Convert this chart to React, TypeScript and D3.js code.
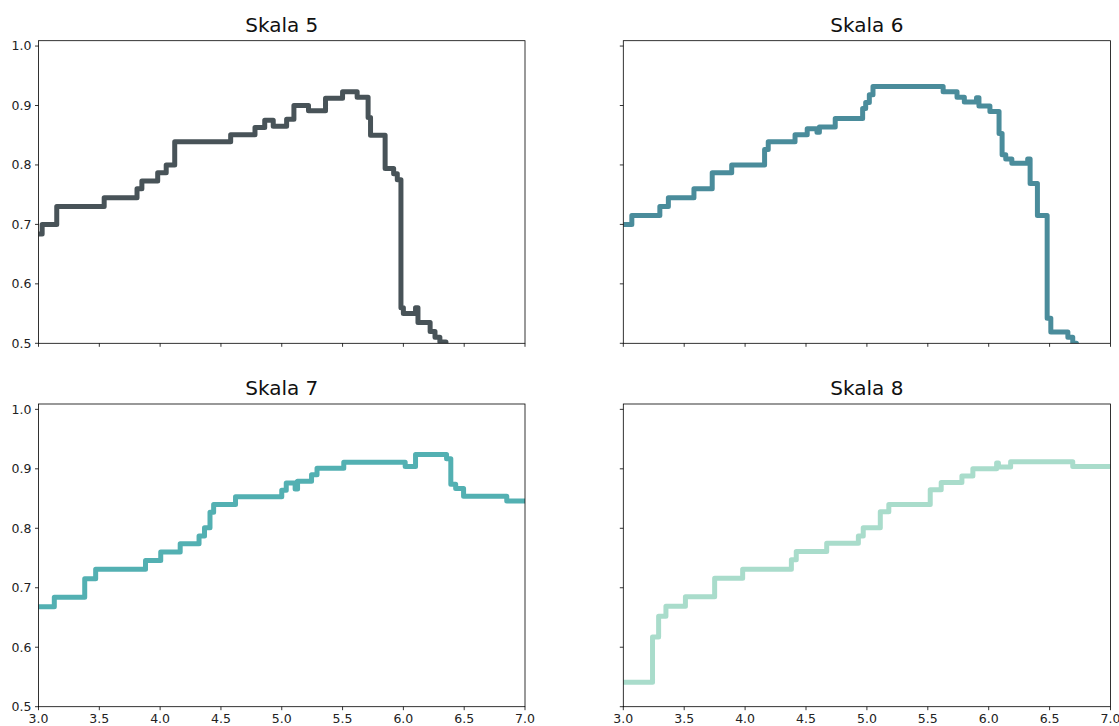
import React from "react";
import * as d3 from "d3";

// Step series: x breakpoints and values (step-after)
const s5x = [3.0, 3.03, 3.15, 3.54, 3.81, 3.85, 3.98, 4.05, 4.12, 4.58, 4.78, 4.86, 4.93, 5.04, 5.10, 5.22, 5.36, 5.50, 5.62, 5.71, 5.73, 5.85, 5.92, 5.95, 5.98, 6.0, 6.10, 6.12, 6.22, 6.26, 6.30, 6.35, 6.37];
const s5y = [0.684, 0.70, 0.73, 0.745, 0.76, 0.773, 0.787, 0.80, 0.839, 0.851, 0.863, 0.875, 0.865, 0.877, 0.90, 0.891, 0.912, 0.923, 0.914, 0.88, 0.85, 0.794, 0.785, 0.775, 0.56, 0.55, 0.56, 0.535, 0.52, 0.51, 0.502, 0.49, 0.45];

const s6x = [3.0, 3.07, 3.30, 3.37, 3.58, 3.73, 3.89, 4.16, 4.19, 4.41, 4.51, 4.59, 4.61, 4.74, 4.965, 4.99, 5.02, 5.05, 5.626, 5.74, 5.80, 5.90, 5.92, 6.01, 6.085, 6.11, 6.14, 6.19, 6.32, 6.34, 6.40, 6.48, 6.51, 6.65, 6.69, 6.72];
const s6y = [0.70, 0.715, 0.73, 0.745, 0.76, 0.787, 0.80, 0.826, 0.839, 0.851, 0.861, 0.855, 0.864, 0.878, 0.895, 0.905, 0.918, 0.932, 0.923, 0.914, 0.906, 0.913, 0.899, 0.89, 0.853, 0.817, 0.81, 0.803, 0.81, 0.769, 0.715, 0.542, 0.519, 0.51, 0.50, 0.45];

const s7x = [3.0, 3.13, 3.38, 3.47, 3.88, 4.005, 4.165, 4.32, 4.365, 4.41, 4.44, 4.62, 5.0, 5.037, 5.11, 5.13, 5.245, 5.29, 5.51, 6.015, 6.10, 6.355, 6.39, 6.43, 6.495, 6.85, 7.0];
const s7y = [0.668, 0.684, 0.715, 0.731, 0.746, 0.76, 0.774, 0.787, 0.801, 0.827, 0.84, 0.853, 0.864, 0.876, 0.866, 0.879, 0.89, 0.901, 0.911, 0.904, 0.924, 0.917, 0.874, 0.867, 0.854, 0.846, 0.846];

const s8x = [3.0, 3.24, 3.29, 3.35, 3.51, 3.75, 3.98, 4.38, 4.42, 4.67, 4.93, 4.97, 5.11, 5.18, 5.52, 5.61, 5.78, 5.87, 6.065, 6.08, 6.18, 6.69, 7.0];
const s8y = [0.541, 0.617, 0.652, 0.669, 0.685, 0.716, 0.731, 0.747, 0.761, 0.775, 0.787, 0.801, 0.828, 0.84, 0.865, 0.877, 0.888, 0.90, 0.91, 0.903, 0.912, 0.904, 0.904];

const titles = ["Skala 5", "Skala 6", "Skala 7", "Skala 8"];
const colors = ["#485358", "#4a8c9b", "#53b0b2", "#a9dccb"];
const xTicks = [3.0, 3.5, 4.0, 4.5, 5.0, 5.5, 6.0, 6.5, 7.0];
const yTicks = [0.5, 0.6, 0.7, 0.8, 0.9, 1.0];

const seriesX = [s5x, s6x, s7x, s8x];
const seriesY = [s5y, s6y, s7y, s8y];

const FONT = "DejaVu Sans, sans-serif";

const panels = [
  { x0: 38.5, x1: 525, y0: 40.7, y1: 343.3, showY: true, showX: false },
  { x0: 623.3, x1: 1110.5, y0: 40.7, y1: 343.3, showY: false, showX: false },
  { x0: 38.5, x1: 525, y0: 404, y1: 706.7, showY: true, showX: true },
  { x0: 623.3, x1: 1110.5, y0: 404, y1: 706.7, showY: false, showX: true },
];

function Panel({ idx }: { idx: number }) {
  const p = panels[idx];
  const x = d3.scaleLinear().domain([3, 7]).range([p.x0, p.x1]);
  const y = d3.scaleLinear().domain([0.5, 1.009]).range([p.y1, p.y0]);
  const xs = seriesX[idx];
  const ys = seriesY[idx];
  const pts: [number, number][] = xs.map((v, i) => [v, ys[i]]);
  const line = d3
    .line<[number, number]>()
    .x((d) => x(d[0]))
    .y((d) => y(d[1]))
    .curve(d3.curveStepAfter);
  const clipId = `clip${idx}`;
  return (
    <g>
      <defs>
        <clipPath id={clipId}>
          <rect x={p.x0} y={p.y0} width={p.x1 - p.x0} height={p.y1 - p.y0} />
        </clipPath>
      </defs>
      <path
        d={line(pts) || ""}
        fill="none"
        stroke={colors[idx]}
        strokeWidth={5}
        strokeLinejoin="round"
        strokeLinecap="butt"
        clipPath={`url(#${clipId})`}
      />
      <rect
        x={p.x0}
        y={p.y0}
        width={p.x1 - p.x0}
        height={p.y1 - p.y0}
        fill="none"
        stroke="#000"
        strokeWidth={0.8}
      />
      {yTicks.map((t) => (
        <g key={"y" + t}>
          <line x1={p.x0 - 3.5} x2={p.x0} y1={y(t)} y2={y(t)} stroke="#000" strokeWidth={0.8} />
          {p.showY && (
            <text
              x={p.x0 - 7}
              y={y(t)}
              dy="0.35em"
              textAnchor="end"
              fontFamily={FONT}
              fontSize={12.5}
              fill="#222"
            >
              {t.toFixed(1)}
            </text>
          )}
        </g>
      ))}
      {xTicks.map((t) => (
        <g key={"x" + t}>
          <line x1={x(t)} x2={x(t)} y1={p.y1} y2={p.y1 + 3.5} stroke="#000" strokeWidth={0.8} />
          {p.showX && (
            <text
              x={x(t)}
              y={p.y1 + 16.5}
              textAnchor="middle"
              fontFamily={FONT}
              fontSize={12.5}
              fill="#222"
            >
              {t.toFixed(1)}
            </text>
          )}
        </g>
      ))}
      <text
        x={(p.x0 + p.x1) / 2}
        y={p.y0 - 9}
        textAnchor="middle"
        fontFamily={FONT}
        fontSize={20}
        fill="#111"
      >
        {titles[idx]}
      </text>
    </g>
  );
}

export default function App() {
  return (
    <svg
      width={1119}
      height={726}
      style={{ position: "absolute", left: 0, top: 0, background: "#fff" }}
    >
      <rect width={1119} height={726} fill="#fff" />
      {panels.map((_, i) => (
        <Panel key={i} idx={i} />
      ))}
    </svg>
  );
}
